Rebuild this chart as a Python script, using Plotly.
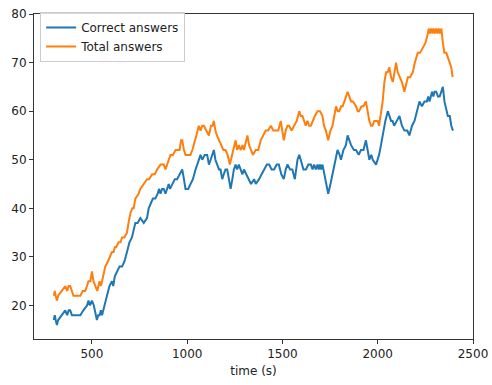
import plotly.graph_objects as go

correct_t = [300, 305, 310, 316, 323, 340, 360, 370, 378, 386, 395, 403, 420, 439, 455, 474, 482, 490, 500, 510, 526, 533, 540, 547, 553, 565, 579, 592, 605, 612, 620, 632, 645, 658, 670, 684, 697, 710, 720, 728, 740, 754, 772, 789, 798, 807, 820, 833, 845, 852, 860, 868, 877, 886, 895, 903, 910, 921, 935, 947, 960, 974, 983, 991, 1005, 1017, 1030, 1044, 1061, 1070, 1079, 1092, 1105, 1114, 1123, 1132, 1140, 1148, 1156, 1167, 1175, 1184, 1192, 1201, 1210, 1220, 1228, 1237, 1245, 1254, 1262, 1271, 1281, 1290, 1298, 1310, 1323, 1335, 1351, 1360, 1377, 1390, 1404, 1418, 1430, 1443, 1456, 1470, 1481, 1494, 1507, 1517, 1526, 1540, 1552, 1565, 1579, 1588, 1596, 1610, 1623, 1636, 1649, 1658, 1666, 1675, 1684, 1690, 1697, 1703, 1710, 1720, 1728, 1740, 1752, 1763, 1776, 1789, 1800, 1807, 1820, 1833, 1842, 1851, 1860, 1875, 1886, 1900, 1912, 1925, 1938, 1947, 1956, 1966, 1974, 1991, 2000, 2007, 2017, 2026, 2040, 2053, 2062, 2070, 2078, 2086, 2100, 2114, 2127, 2140, 2155, 2166, 2180, 2193, 2206, 2219, 2232, 2245, 2258, 2265, 2272, 2279, 2285, 2292, 2298, 2307, 2316, 2325, 2333, 2342, 2350, 2360, 2368, 2378, 2386, 2395]
correct_v = [17, 18, 17, 16, 17, 18, 19, 18, 19, 19, 18, 18, 18, 18, 19, 20, 21, 20, 21, 20, 17, 18, 18, 19, 18, 20, 22, 24, 25, 24, 26, 27, 28, 28, 29, 31, 33, 34, 36, 37, 37, 38, 37, 38, 40, 41, 42, 42, 43, 44, 43, 44, 44, 43, 44, 45, 44, 45, 46, 46, 47, 48, 46, 44, 44, 45, 46, 48, 50, 51, 50, 51, 51, 49, 50, 51, 52, 50, 49, 48, 48, 46, 47, 48, 48, 46, 44, 46, 48, 49, 48, 49, 48, 47, 48, 47, 46, 45, 46, 45, 46, 47, 48, 49, 49, 48, 48, 49, 49, 47, 46, 48, 49, 48, 48, 46, 50, 51, 50, 48, 48, 49, 49, 48, 49, 48, 49, 48, 49, 48, 49, 47, 45, 43, 45, 47, 49, 52, 51, 50, 52, 53, 55, 54, 53, 52, 52, 51, 52, 52, 54, 52, 50, 51, 50, 49, 50, 51, 53, 55, 58, 60, 59, 58, 58, 57, 58, 59, 57, 56, 56, 55, 57, 58, 60, 62, 61, 62, 62, 63, 62, 63, 64, 63, 64, 64, 63, 63, 64, 65, 62, 60, 59, 59, 57, 56, 54]

total_t = [300, 305, 310, 316, 323, 342, 360, 370, 378, 386, 395, 403, 420, 439, 452, 465, 474, 482, 492, 500, 508, 517, 528, 540, 547, 553, 562, 570, 583, 596, 605, 614, 620, 627, 640, 650, 658, 670, 684, 692, 702, 712, 719, 728, 745, 754, 772, 789, 800, 816, 830, 842, 860, 877, 886, 895, 905, 912, 925, 939, 950, 960, 968, 974, 983, 991, 1005, 1017, 1027, 1035, 1048, 1061, 1070, 1079, 1088, 1100, 1114, 1125, 1133, 1140, 1148, 1156, 1167, 1175, 1190, 1201, 1212, 1224, 1235, 1245, 1254, 1262, 1271, 1281, 1290, 1298, 1310, 1316, 1325, 1333, 1345, 1360, 1373, 1386, 1399, 1412, 1425, 1439, 1452, 1465, 1478, 1491, 1500, 1507, 1517, 1526, 1535, 1548, 1561, 1575, 1588, 1596, 1605, 1615, 1622, 1631, 1640, 1649, 1658, 1670, 1684, 1697, 1710, 1718, 1728, 1740, 1752, 1763, 1772, 1781, 1790, 1798, 1808, 1816, 1825, 1833, 1842, 1851, 1860, 1870, 1886, 1895, 1902, 1915, 1925, 1938, 1947, 1956, 1965, 1972, 1982, 1991, 2000, 2007, 2017, 2026, 2035, 2044, 2052, 2061, 2070, 2079, 2088, 2096, 2105, 2114, 2127, 2140, 2150, 2158, 2170, 2184, 2195, 2210, 2222, 2237, 2250, 2263, 2268, 2274, 2281, 2287, 2293, 2300, 2307, 2314, 2320, 2327, 2334, 2342, 2350, 2360, 2368, 2378, 2386, 2393]
total_v = [22, 23, 22, 21, 22, 23, 24, 23, 24, 24, 23, 22, 22, 22, 23, 23, 24, 25, 25, 27, 25, 24, 23, 25, 24, 25, 27, 28, 29, 30, 31, 31, 32, 32, 33, 33, 34, 34, 35, 37, 39, 40, 40, 42, 43, 44, 45, 46, 46, 47, 47, 48, 49, 49, 48, 49, 50, 51, 51, 52, 52, 52, 54, 54, 52, 51, 51, 51, 52, 53, 55, 57, 56, 57, 57, 56, 55, 57, 57, 58, 56, 55, 54, 53, 52, 52, 51, 49, 51, 53, 54, 52, 53, 52, 53, 52, 54, 55, 53, 52, 51, 52, 52, 54, 55, 56, 56, 57, 56, 56, 56, 58, 56, 54, 56, 57, 57, 56, 57, 58, 60, 59, 59, 58, 57, 58, 57, 57, 58, 59, 60, 60, 59, 57, 56, 54, 56, 57, 59, 61, 60, 60, 61, 61, 62, 63, 64, 63, 62, 62, 61, 60, 60, 61, 61, 62, 60, 58, 57, 57, 58, 58, 58, 57, 60, 62, 66, 68, 68, 69, 67, 66, 68, 70, 68, 67, 66, 64, 66, 67, 67, 68, 70, 72, 72, 73, 74, 76, 77, 76, 77, 76, 77, 76, 77, 76, 77, 76, 77, 74, 72, 72, 71, 70, 69, 67]

x_ticks = [500, 1000, 1500, 2000, 2500]
y_ticks = [20, 30, 40, 50, 60, 70, 80]

fig = go.Figure()
fig.add_trace(go.Scatter(x=correct_t, y=correct_v, mode="lines", name="Correct answers",
                         line=dict(color="#1f77b4", width=2)))
fig.add_trace(go.Scatter(x=total_t, y=total_v, mode="lines", name="Total answers",
                         line=dict(color="#ff7f0e", width=2)))

axis_common = dict(showline=True, linecolor="#333333", linewidth=1, mirror=True,
                   ticks="outside", ticklen=4, tickcolor="#333333", showgrid=False,
                   zeroline=False, automargin=False,
                   tickfont=dict(family="DejaVu Sans", size=12, color="#222222"))

fig.update_layout(
    width=492, height=385,
    margin=dict(l=34, r=19, t=12, b=46),
    paper_bgcolor="white", plot_bgcolor="white",
    font=dict(family="DejaVu Sans", size=12, color="#222222"),
    xaxis=dict(range=[196, 2500], tickvals=x_ticks, title=dict(text="time (s)", standoff=6,
               font=dict(family="DejaVu Sans", size=12)), **axis_common),
    yaxis=dict(range=[13.1, 80], tickvals=y_ticks, **axis_common),
    legend=dict(x=0.014, y=1.006, xanchor="left", yanchor="top",
                bgcolor="rgba(255,255,255,0.8)", bordercolor="#cccccc", borderwidth=1,
                font=dict(family="DejaVu Sans", size=12, color="#222222"),
                itemwidth=30, tracegroupgap=0),
    showlegend=True,
)

fig.write_html("out.html")
